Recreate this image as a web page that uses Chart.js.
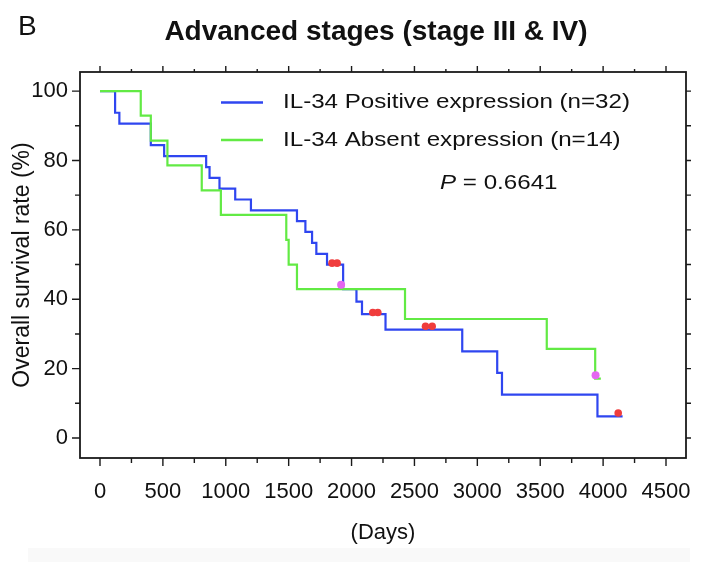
<!DOCTYPE html>
<html>
<head>
<meta charset="utf-8">
<script src="https://cdn.jsdelivr.net/npm/chart.js@4.4.1/dist/chart.umd.min.js"></script>
<style>
html, body { margin: 0; padding: 0; background: #fff; }
#wrap { width: 705px; height: 562px; }
</style>
</head>
<body>
<div id="wrap"><canvas id="chart"></canvas></div>
<script>
// Curvas de sobrevida (dias, %)
const positiveDays = [0, 120, 154, 404, 510, 844, 871, 950, 1075, 1200, 1566, 1633, 1686, 1720, 1805, 1933, 2039, 2083, 2270, 2880, 3158, 3196, 3955, 4155];
const positiveSurv = [100, 93.75, 90.6, 84.4, 81.25, 78.1, 75, 71.9, 68.75, 65.6, 62.5, 59.4, 56.25, 53.1, 50, 42.9, 39.3, 35.7, 31.25, 25, 18.75, 12.5, 6.25, 6.25];
const absentDays = [0, 324, 404, 536, 809, 961, 1481, 1500, 1566, 2425, 3552, 3937, 3982];
const absentSurv = [100, 92.9, 85.7, 78.6, 71.4, 64.3, 57.1, 50, 42.9, 34.3, 25.7, 17.1, 17.1];

// Pacientes censurados
const positiveCensorDays = [1845, 1885, 2169, 2209, 2588, 2641, 4120];
const positiveCensorSurv = [50.4, 50.4, 36.2, 36.2, 32.2, 32.2, 7.2];
const absentCensorDays = [1917, 3940];
const absentCensorSurv = [44.2, 18.1];

// Eixos e textos
const xTicks = [0, 500, 1000, 1500, 2000, 2500, 3000, 3500, 4000, 4500];
const yTicks = [0, 20, 40, 60, 80, 100];
const seriesLabels = ["IL-34 Positive expression (n=32)", "IL-34 Absent expression (n=14)"];
const chartTitle = "Advanced stages (stage III & IV)";
const panelLetter = "B";
const pValue = "0.6641";

const FONT = '"Liberation Sans", Arial, Helvetica, sans-serif';
const BLUE = "#2f46f0";
const GREEN = "#62ea44";
const RED = "#f03c3c";
const MAGENTA = "#e466f0";
const INK = "#111";

const toPoints = (days, surv) => days.map((d, i) => ({ x: d, y: surv[i] }));

// Moldura, marcas dos eixos, título e legenda
const decorPlugin = {
    id: "decor",
    beforeDraw(chart) {
        const ctx = chart.ctx;
        ctx.save();
        ctx.fillStyle = "#f9f9f9";
        ctx.fillRect(28, 548, 662, 14);
        ctx.restore();
    },
    afterDraw(chart) {
        const ctx = chart.ctx;
        const area = chart.chartArea;
        const xs = chart.scales.x;
        const ys = chart.scales.y;

        ctx.save();
        ctx.strokeStyle = "#1a1a1a";
        ctx.lineWidth = 1.8;
        ctx.strokeRect(area.left, area.top, area.right - area.left, area.bottom - area.top);

        ctx.lineWidth = 1.4;
        ctx.beginPath();
        const xStep = (xTicks[1] - xTicks[0]) / 2;
        for (let v = xTicks[0]; v <= xTicks[xTicks.length - 1]; v += xStep) {
            const px = xs.getPixelForValue(v);
            const major = xTicks.includes(v);
            ctx.moveTo(px, area.bottom);
            ctx.lineTo(px, area.bottom + (major ? 8 : 5));
            ctx.moveTo(px, area.top);
            ctx.lineTo(px, area.top - (major ? 6 : 3));
        }
        const yStep = (yTicks[1] - yTicks[0]) / 2;
        for (let v = yTicks[0]; v <= yTicks[yTicks.length - 1]; v += yStep) {
            const py = ys.getPixelForValue(v);
            const major = yTicks.includes(v);
            ctx.moveTo(area.left, py);
            ctx.lineTo(area.left - (major ? 8 : 5), py);
            ctx.moveTo(area.right, py);
            ctx.lineTo(area.right + 5, py);
        }
        ctx.stroke();

        // letra do painel e título
        ctx.fillStyle = INK;
        ctx.textBaseline = "alphabetic";
        ctx.textAlign = "left";
        ctx.font = "28px " + FONT;
        ctx.fillText(panelLetter, 18, 35);
        ctx.font = "bold 28px " + FONT;
        ctx.textAlign = "center";
        ctx.fillText(chartTitle, 376, 40);

        // legenda
        ctx.textAlign = "left";
        ctx.textBaseline = "middle";
        ctx.font = "21px " + FONT;
        const rows = [
            { color: BLUE, y: 102.5 },
            { color: GREEN, y: 140 }
        ];
        rows.forEach((row, i) => {
            ctx.strokeStyle = row.color;
            ctx.lineWidth = 2.5;
            ctx.beginPath();
            ctx.moveTo(221, row.y);
            ctx.lineTo(263, row.y);
            ctx.stroke();
            ctx.save();
            ctx.translate(283, row.y);
            ctx.scale(1.15, 1);
            ctx.fillText(seriesLabels[i], 0, 0);
            ctx.restore();
        });

        // valor de P
        ctx.save();
        ctx.translate(440, 183.5);
        ctx.scale(1.15, 1);
        ctx.font = "italic 21px " + FONT;
        ctx.fillText("P", 0, 0);
        const pw = ctx.measureText("P").width;
        ctx.font = "21px " + FONT;
        ctx.fillText(" = " + pValue, pw, 0);
        ctx.restore();

        ctx.restore();
    }
};

const ctx = document.getElementById("chart").getContext("2d");
const tickFont = { family: FONT, size: 22 };

new Chart(ctx, {
    type: "line",
    data: {
        datasets: [
            {
                label: seriesLabels[0],
                data: toPoints(positiveDays, positiveSurv),
                borderColor: BLUE,
                borderWidth: 2.2,
                stepped: true,
                pointRadius: 0,
                fill: false,
                order: 2
            },
            {
                label: seriesLabels[1],
                data: toPoints(absentDays, absentSurv),
                borderColor: GREEN,
                borderWidth: 2.2,
                stepped: true,
                pointRadius: 0,
                fill: false,
                order: 1
            },
            {
                type: "scatter",
                label: "censored positive",
                data: toPoints(positiveCensorDays, positiveCensorSurv),
                backgroundColor: RED,
                borderWidth: 0,
                pointRadius: 3.8,
                order: 0
            },
            {
                type: "scatter",
                label: "censored absent",
                data: toPoints(absentCensorDays, absentCensorSurv),
                backgroundColor: MAGENTA,
                borderWidth: 0,
                pointRadius: 4,
                order: 0
            }
        ]
    },
    options: {
        responsive: true,
        maintainAspectRatio: false,
        animation: false,
        layout: { padding: { top: 72, right: 19, left: 0, bottom: 0 } },
        plugins: {
            legend: { display: false },
            tooltip: { enabled: false }
        },
        scales: {
            x: {
                type: "linear",
                min: -159,
                max: 4659,
                afterBuildTicks: s => { s.ticks = xTicks.map(v => ({ value: v })); },
                afterFit: s => { s.height = 104; },
                grid: { display: false, drawTicks: true, tickLength: 8 },
                border: { display: false },
                ticks: { font: tickFont, color: INK, padding: 13, maxRotation: 0, autoSkip: false, callback: v => String(v) },
                title: {
                    display: true,
                    text: "(Days)",
                    font: { family: FONT, size: 22 },
                    color: INK,
                    padding: { top: 0, bottom: 16 }
                }
            },
            y: {
                type: "linear",
                min: -5.76,
                max: 105.5,
                afterBuildTicks: s => { s.ticks = yTicks.map(v => ({ value: v })); },
                afterFit: s => { s.width = 80; },
                grid: { display: false, drawTicks: true, tickLength: 8 },
                border: { display: false },
                ticks: { font: tickFont, color: INK, padding: 4, autoSkip: false, callback: v => String(v) },
                title: {
                    display: true,
                    text: "Overall survival rate (%)",
                    font: { family: FONT, size: 23 },
                    color: INK,
                    padding: { top: 9, bottom: 0 }
                }
            }
        }
    },
    plugins: [decorPlugin]
});
</script>
</body>
</html>
